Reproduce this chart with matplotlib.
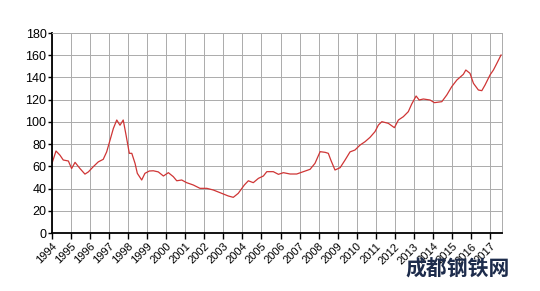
import numpy as np
from matplotlib import pyplot as plt

plt.rcParams['font.family'] = ['Liberation Sans', 'DejaVu Sans']

# decimal year and index value
t = [1994.00, 1994.21, 1994.42, 1994.59, 1994.86, 1995.03, 1995.21, 1995.47,
     1995.73, 1995.91, 1996.17, 1996.43, 1996.69, 1996.87, 1997.05, 1997.22,
     1997.40, 1997.57, 1997.74, 1997.89, 1998.06, 1998.19, 1998.36, 1998.48,
     1998.71, 1998.88, 1999.11, 1999.32, 1999.58, 1999.85, 2000.11, 2000.37,
     2000.55, 2000.81, 2001.07, 2001.42, 2001.77, 2002.13, 2002.47, 2002.91,
     2003.26, 2003.52, 2003.78, 2004.10, 2004.31, 2004.57, 2004.84, 2005.10,
     2005.28, 2005.62, 2005.89, 2006.15, 2006.50, 2006.85, 2007.20, 2007.55,
     2007.81, 2008.08, 2008.34, 2008.51, 2008.64, 2008.86, 2009.13, 2009.39,
     2009.65, 2009.91, 2010.18, 2010.44, 2010.70, 2010.96, 2011.14, 2011.32,
     2011.66, 2011.98, 2012.19, 2012.45, 2012.71, 2012.89, 2013.12, 2013.28,
     2013.50, 2013.85, 2014.08, 2014.47, 2014.73, 2014.99, 2015.26, 2015.60,
     2015.73, 2015.95, 2016.13, 2016.39, 2016.57, 2016.74, 2017.00, 2017.18,
     2017.36, 2017.58]
v = [62.7, 73.8, 70.0, 65.7, 64.8, 58.0, 63.6, 58.0,
     53.0, 55.0, 59.7, 64.0, 66.3, 73.0, 83.7, 94.0,
     101.7, 97.0, 101.7, 88.0, 71.7, 71.7, 62.7, 53.7,
     47.7, 53.7, 55.8, 56.0, 55.0, 51.3, 54.3, 50.7,
     47.0, 47.7, 45.3, 43.2, 40.2, 40.2, 38.7, 35.7,
     33.3, 32.1, 35.7, 43.2, 47.0, 45.3, 49.2, 51.3,
     55.2, 55.2, 52.8, 54.3, 53.1, 53.1, 55.2, 57.3,
     62.7, 73.2, 72.6, 71.7, 65.7, 56.7, 58.8, 65.7,
     73.0, 74.7, 79.2, 82.2, 86.1, 91.2, 97.2, 100.2,
     98.7, 94.8, 101.7, 104.7, 109.2, 116.1, 123.3, 119.7,
     120.6, 119.7, 117.3, 118.2, 124.2, 131.7, 137.7, 142.8,
     146.7, 143.7, 134.7, 128.7, 128.1, 133.2, 142.2, 146.7,
     152.7, 160.2]
years = list(range(1994, 2018))
yticks = list(range(0, 181, 20))

fig = plt.figure(figsize=(5.40, 2.91), dpi=100)
ax = fig.add_axes([52 / 540, 1 - 233 / 291, 450 / 540, 200 / 291])
ax.plot(t, v, color='#cf3535', lw=0.9)

ax.set_xlim(1994, 2017.63)
ax.set_ylim(0, 180)
ax.set_xticks(years)
ax.set_xticklabels([str(y) for y in years], rotation=45, ha='right',
                   rotation_mode='anchor', fontsize=8)
ax.set_yticks(yticks)
ax.tick_params(axis='y', labelsize=9, length=3, width=1, pad=1)
ax.tick_params(axis='x', length=4, width=1, pad=2)
ax.grid(True, color='#ababab', lw=0.7)
ax.set_axisbelow(True)
for s in ['top', 'right']:
    ax.spines[s].set_color('#ababab')
    ax.spines[s].set_linewidth(0.7)
for s in ['left', 'bottom']:
    ax.spines[s].set_linewidth(1.3)

fig.text(458 / 540, 1 - 269 / 291, '成都钢铁网', ha='center', va='center',
         fontsize=15, fontweight='bold', color='#1d2c4c',
         family=['Noto Sans CJK SC', 'DejaVu Sans'])

plt.savefig('out.png', dpi=100)
